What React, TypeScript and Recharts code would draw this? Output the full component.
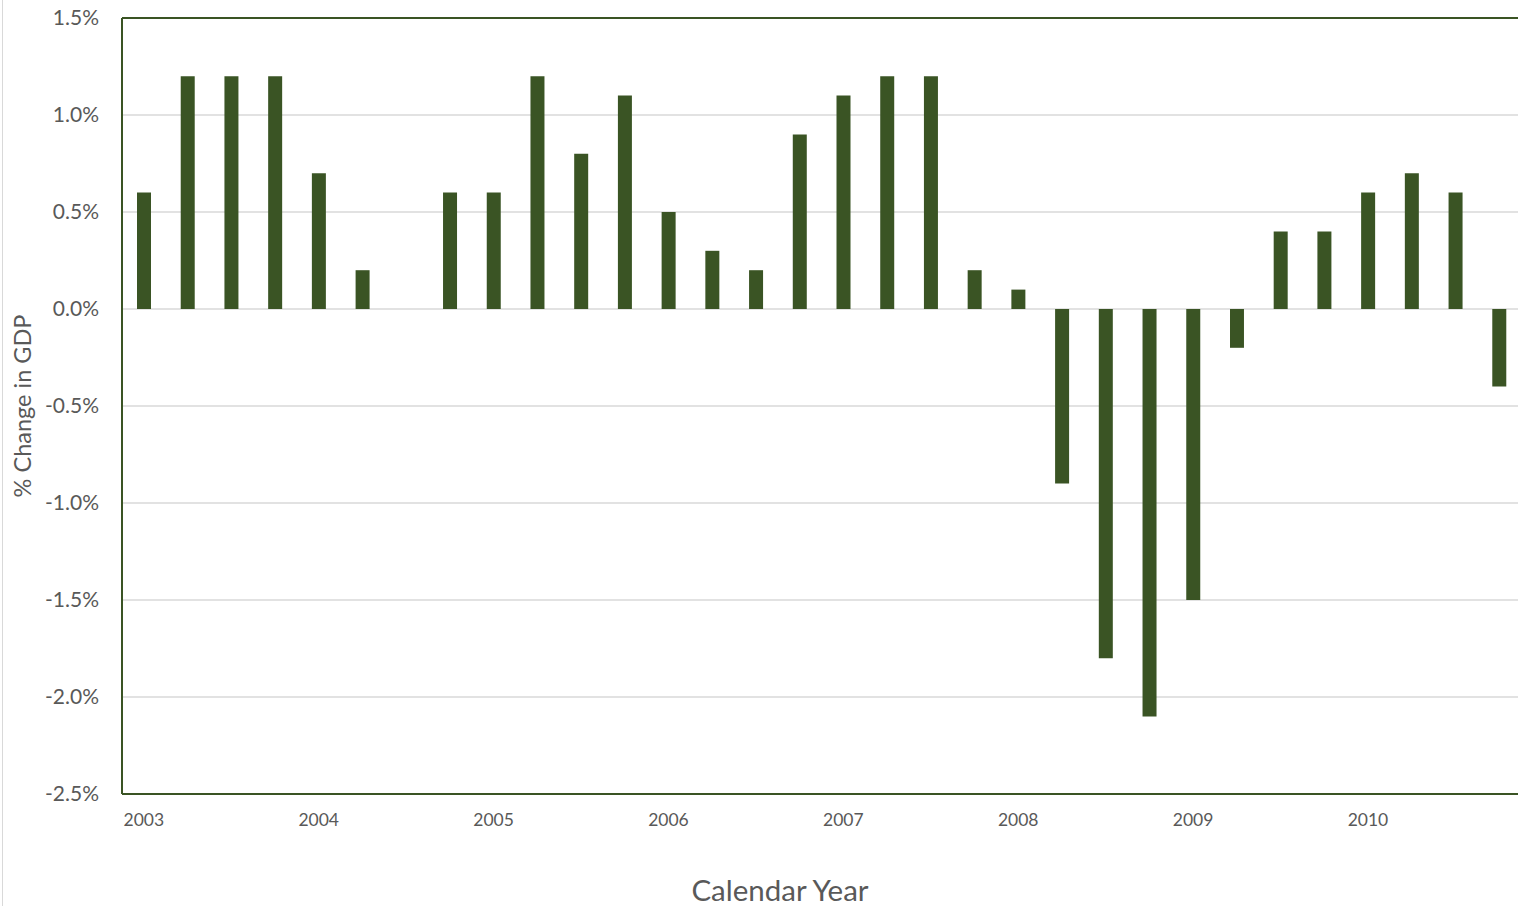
import { BarChart, Bar, XAxis, YAxis, CartesianGrid, ReferenceLine, Label } from 'recharts';

const years = ['2003', '2004', '2005', '2006', '2007', '2008', '2009', '2010'];
const quarters = ['Q1', 'Q2', 'Q3', 'Q4'];

// quarter-on-quarter change in GDP (%), Q1 2003 .. Q4 2010
const gdpChange = [
  0.6, 1.2, 1.2, 1.2,
  0.7, 0.2, 0.0, 0.6,
  0.6, 1.2, 0.8, 1.1,
  0.5, 0.3, 0.2, 0.9,
  1.1, 1.2, 1.2, 0.2,
  0.1, -0.9, -1.8, -2.1,
  -1.5, -0.2, 0.4, 0.4,
  0.6, 0.7, 0.6, -0.4,
];

const yTicks = [-2.5, -2.0, -1.5, -1.0, -0.5, 0.0, 0.5, 1.0, 1.5];

const data = gdpChange.map((value, i) => ({
  quarter: `${years[Math.floor(i / 4)]} ${quarters[i % 4]}`,
  value,
}));

const colors = {
  bar: '#3a5424',
  axis: '#3a5424',
  grid: '#d9d9d9',
  text: '#595959',
};

const font = 'Lato, "Open Sans", sans-serif';

export default function App() {
  return (
    <div style={{ position: 'absolute', left: 0, top: 0, width: 1518, height: 906, overflow: 'hidden', background: '#fff' }}>
      <div style={{ position: 'absolute', left: 2, top: 0, width: 1, height: 906, background: colors.grid }} />
      <BarChart
        width={1541}
        height={906}
        data={data}
        margin={{ top: 18, right: 20, left: 0, bottom: 0 }}
        barSize={14}
        style={{ fontFamily: font }}
      >
        <CartesianGrid vertical={false} stroke={colors.grid} strokeWidth={1.5} />
        <XAxis
          dataKey="quarter"
          height={112}
          interval={0}
          tickLine={false}
          tickSize={0}
          tickMargin={20}
          axisLine={{ stroke: colors.axis, strokeWidth: 2 }}
          tick={{ fontSize: 17.5, fill: colors.text }}
          tickFormatter={(v: string) => (v.endsWith('Q1') ? v.slice(0, 4) : '')}
        >
          <Label
            content={() => (
              <text x={780} y={901} textAnchor="middle" fontSize={29.5} fill={colors.text} fontFamily={font}>
                Calendar Year
              </text>
            )}
          />
        </XAxis>
        <YAxis
          width={122}
          domain={[-2.5, 1.5]}
          ticks={yTicks}
          tickLine={false}
          tickSize={0}
          tickMargin={23}
          axisLine={{ stroke: colors.axis, strokeWidth: 2 }}
          tick={{ fontSize: 21, fill: colors.text }}
          tickFormatter={(v: number) => `${v.toFixed(1)}%`}
        >
          <Label
            content={({ viewBox }: any) => {
              const cy = viewBox.y + viewBox.height / 2;
              return (
                <text
                  x={22}
                  y={cy}
                  transform={`rotate(-90 22 ${cy})`}
                  textAnchor="middle"
                  dominantBaseline="central"
                  fontSize={23.5}
                  fill={colors.text}
                  fontFamily={font}
                >
                  % Change in GDP
                </text>
              );
            }}
          />
        </YAxis>
        <ReferenceLine y={1.5} stroke={colors.axis} strokeWidth={2} />
        <Bar dataKey="value" fill={colors.bar} isAnimationActive={false} />
      </BarChart>
    </div>
  );
}
